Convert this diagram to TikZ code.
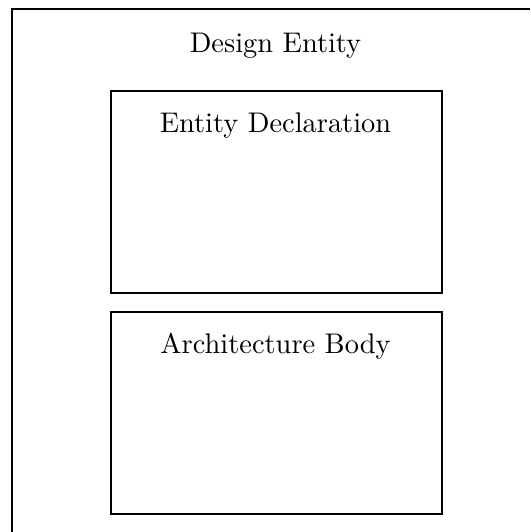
\documentclass[tikz,border=0pt]{standalone}
\begin{document}
\begin{tikzpicture}[x=0.352pt,y=-0.352pt,
  frame/.style={draw=black,line width=0.85pt},
  label/.style={anchor=base,inner sep=0pt,font=\normalsize}]
\useasboundingbox (0,0) rectangle (530,532);
\clip (0,0) rectangle (530,532);
\draw[frame] (12,9) rectangle (539,545);
\node[frame,minimum width=331*0.352pt,minimum height=202*0.352pt,inner sep=0pt,anchor=north west] (decl) at (110,90) {};
\node[frame,minimum width=331*0.352pt,minimum height=202*0.352pt,inner sep=0pt,anchor=north west] (arch) at (110,311) {};
\node[label] (title) at (275.5,52) {Design Entity};
\node[label] (decltext) at (275.5,132) {Entity Declaration};
\node[label] (archtext) at (275.5,353) {Architecture Body};
\end{tikzpicture}
\end{document}
